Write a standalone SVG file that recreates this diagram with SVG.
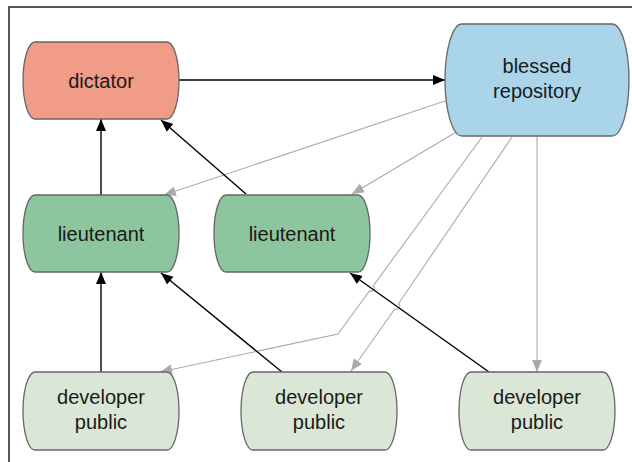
<svg xmlns="http://www.w3.org/2000/svg" width="632" height="462" viewBox="0 0 632 462">
<style>
.node{stroke:#666;stroke-width:1.3}
.lbl{font-family:"Liberation Sans",Arial,sans-serif;font-size:20px;fill:#1a1a1a;text-anchor:middle}
.blk{fill:none;stroke:#000;stroke-width:1.4}
.gry{fill:none;stroke:#aaa;stroke-width:1.1}
</style>
<defs>
<marker id="ab" viewBox="0 0 12 12" refX="12" refY="6" markerWidth="12" markerHeight="12" markerUnits="userSpaceOnUse" orient="auto"><path d="M0,1 L12,6 L0,11 Z" fill="#000"/></marker>
<marker id="ag" viewBox="0 0 12 12" refX="12" refY="6" markerWidth="12" markerHeight="12" markerUnits="userSpaceOnUse" orient="auto"><path d="M0,1 L12,6 L0,11 Z" fill="#aaa"/></marker>
</defs>
<rect width="632" height="462" fill="#fff"/>
<path d="M9,462 V7 H632" fill="none" stroke="#222" stroke-width="1.5"/>
<g id="connectors">
<path class="gry" d="M445,101 L164,195" marker-end="url(#ag)"/>
<path class="gry" d="M458,131 L352,194" marker-end="url(#ag)"/>
<path class="gry" d="M482,137 L373.2,285.9 A3,3 0 0 1 369.6,290.7 L338,334 L160,372" marker-end="url(#ag)"/>
<path class="gry" d="M512,137 L398.4,303.8 A3,3 0 0 1 395,308.8 L351,371" marker-end="url(#ag)"/>
<path class="gry" d="M537,136 L537,372" marker-end="url(#ag)"/>
<path class="blk" d="M179,80 L445,80" marker-end="url(#ab)"/>
<path class="blk" d="M101,195 L101,119" marker-end="url(#ab)"/>
<path class="blk" d="M246,194 L161,120" marker-end="url(#ab)"/>
<path class="blk" d="M101,372 L101,272" marker-end="url(#ab)"/>
<path class="blk" d="M282,372 L161,273" marker-end="url(#ab)"/>
<path class="blk" d="M489,372 L350,273" marker-end="url(#ab)"/>
</g>
<g id="dictator">
<path class="node" fill="#f19b89" d="M35,42 H167 A12,38.5 0 0 1 167,119 H35 A12,38.5 0 0 1 35,42 Z"/>
<text class="lbl" x="101" y="88">dictator</text>
</g>
<g id="blessed">
<path class="node" fill="#a9d4e9" d="M462,24 H612 A17,56 0 0 1 612,136 H462 A17,56 0 0 1 462,24 Z"/>
<text class="lbl" x="537" y="73">blessed</text>
<text class="lbl" x="537" y="98">repository</text>
</g>
<g id="lieutenant1">
<path class="node" fill="#8dc69e" d="M35,195 H167 A12,38.5 0 0 1 167,272 H35 A12,38.5 0 0 1 35,195 Z"/>
<text class="lbl" x="101" y="241">lieutenant</text>
</g>
<g id="lieutenant2">
<path class="node" fill="#8dc69e" d="M226,195 H358 A12,38.5 0 0 1 358,272 H226 A12,38.5 0 0 1 226,195 Z"/>
<text class="lbl" x="292" y="241">lieutenant</text>
</g>
<g id="developer1">
<path class="node" fill="#dbe7d6" d="M35,372 H167 A12,39 0 0 1 167,450 H35 A12,39 0 0 1 35,372 Z"/>
<text class="lbl" x="101" y="404">developer</text>
<text class="lbl" x="101" y="429">public</text>
</g>
<g id="developer2">
<path class="node" fill="#dbe7d6" d="M253,372 H385 A12,39 0 0 1 385,450 H253 A12,39 0 0 1 253,372 Z"/>
<text class="lbl" x="319" y="404">developer</text>
<text class="lbl" x="319" y="429">public</text>
</g>
<g id="developer3">
<path class="node" fill="#dbe7d6" d="M471,372 H603 A12,39 0 0 1 603,450 H471 A12,39 0 0 1 471,372 Z"/>
<text class="lbl" x="537" y="404">developer</text>
<text class="lbl" x="537" y="429">public</text>
</g>
</svg>
